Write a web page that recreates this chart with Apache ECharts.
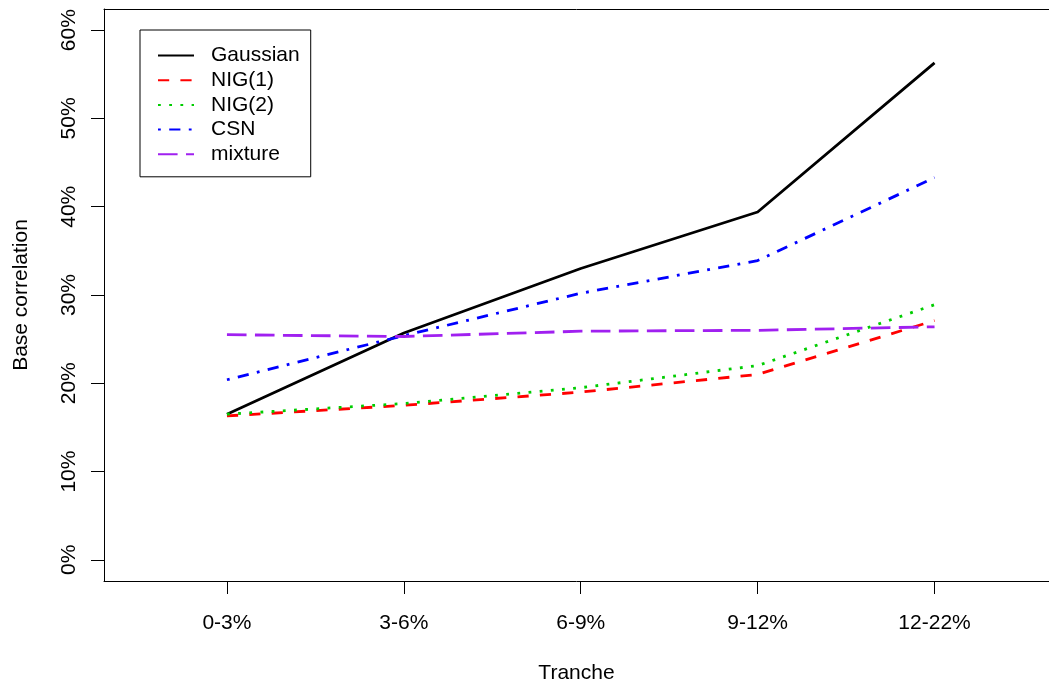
<!DOCTYPE html>
<html>
<head>
<meta charset="utf-8">
<script src="https://cdn.jsdelivr.net/npm/echarts@6/dist/echarts.min.js"></script>
<style>
  html, body { margin: 0; padding: 0; background: #fff; }
  #chart { width: 1049px; height: 684px; }
</style>
</head>
<body>
<div id="chart"></div>
<script>
// Tranche labels along the x axis
const categories = ['0-3%', '3-6%', '6-9%', '9-12%', '12-22%'];
// Base correlation per model, in percent
const gaussian = [16.5, 25.7, 33.0, 39.4, 56.3];
const nig1 = [16.3, 17.5, 19.0, 21.0, 27.1];
const nig2 = [16.5, 17.7, 19.5, 22.0, 28.9];
const csn = [20.4, 25.4, 30.2, 33.9, 43.3];
const mixture = [25.5, 25.3, 25.9, 26.0, 26.4];
// Tick values on the y axis
const yTicks = [0, 10, 20, 30, 40, 50, 60];

const FONT = 'Liberation Sans, Arial, sans-serif';
const LW = 2.8;
const catIdx = categories.map((c, i) => i);

function pairs(arr) {
  return arr.map((v, i) => [i, v]);
}

function lineSeries(name, data, color, dash) {
  return {
    name: name,
    type: 'line',
    data: pairs(data),
    symbol: 'none',
    silent: true,
    animation: false,
    lineStyle: { color: color, width: LW, type: dash, cap: 'butt', join: 'round' },
    itemStyle: { color: color }
  };
}

const chart = echarts.init(document.getElementById('chart'), null, { renderer: 'canvas' });

chart.setOption({
  backgroundColor: '#ffffff',
  animation: false,
  textStyle: { fontFamily: FONT, color: '#000' },
  grid: {
    left: 104, top: 9, right: 0, height: 572,
    show: false,
    containLabel: false,
    outerBoundsMode: 'none'
  },
  legend: {
    orient: 'vertical',
    left: 140, top: 30,
    padding: [15, 11, 12, 17],
    borderColor: '#000', borderWidth: 1,
    itemWidth: 36, itemHeight: 14, itemGap: 3.7,
    // keep only the line sample in each legend entry
    itemStyle: { opacity: 0 },
    selectedMode: false,
    textStyle: { fontFamily: FONT, fontSize: 21, color: '#000', lineHeight: 21, padding: [0, 0, 0, 12] },
    data: ['Gaussian', 'NIG(1)', 'NIG(2)', 'CSN', 'mixture']
  },
  xAxis: [{
    type: 'value',
    position: 'bottom',
    min: -0.695, max: 4.647,
    name: 'Tranche',
    nameLocation: 'middle',
    nameGap: 82,
    nameTextStyle: { fontFamily: FONT, fontSize: 21, color: '#000' },
    splitLine: { show: false },
    axisLine: { show: true, onZero: false, lineStyle: { color: '#000', width: 1 } },
    axisTick: { show: true, length: 13, lineStyle: { color: '#000', width: 1 }, customValues: catIdx },
    axisLabel: {
      fontFamily: FONT, fontSize: 21, color: '#000', margin: 32,
      customValues: catIdx,
      formatter: v => categories[Math.round(v)] ?? ''
    }
  }, {
    // top edge of the plot frame
    type: 'value',
    position: 'top',
    min: -0.695, max: 4.647,
    splitLine: { show: false },
    axisLine: { show: true, onZero: false, lineStyle: { color: '#000', width: 1 } },
    axisTick: { show: false },
    axisLabel: { show: false }
  }],
  yAxis: {
    type: 'value',
    min: -2.4, max: 62.4,
    name: 'Base correlation',
    nameLocation: 'middle',
    nameGap: 72,
    nameRotate: 90,
    nameTextStyle: { fontFamily: FONT, fontSize: 21, color: '#000' },
    splitLine: { show: false },
    axisLine: { show: true, onZero: false, lineStyle: { color: '#000', width: 1 } },
    axisTick: { show: true, length: 13, lineStyle: { color: '#000', width: 1 }, customValues: yTicks },
    axisLabel: {
      fontFamily: FONT, fontSize: 21, color: '#000', margin: 24, rotate: 90,
      customValues: yTicks,
      formatter: v => v + '%'
    }
  },
  series: [
    lineSeries('Gaussian', gaussian, '#000000', 'solid'),
    lineSeries('NIG(1)', nig1, '#ff0000', [4 * LW, 4 * LW]),
    lineSeries('NIG(2)', nig2, '#00cd00', [1 * LW, 3 * LW]),
    lineSeries('CSN', csn, '#0000ff', [1 * LW, 3 * LW, 4 * LW, 3 * LW]),
    lineSeries('mixture', mixture, '#a020f0', [7 * LW, 3 * LW])
  ]
});
</script>
</body>
</html>
